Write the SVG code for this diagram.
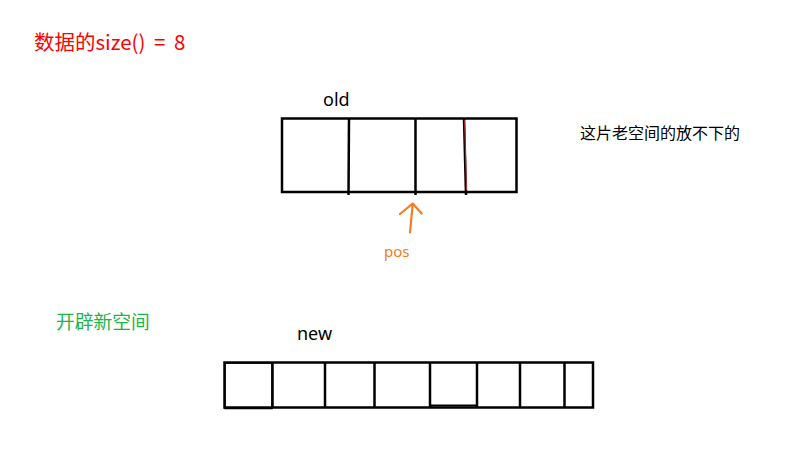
<svg xmlns="http://www.w3.org/2000/svg" width="792" height="449" viewBox="0 0 792 449">
<style>
.box{fill:none;stroke:#000;stroke-width:2.5}
.div{stroke:#000;stroke-width:2.5;fill:none}
.t{font-family:"Noto Sans CJK SC","Noto Sans",sans-serif}
.lat{font-family:"Noto Sans","Noto Sans CJK SC",sans-serif}
</style>
<rect width="792" height="449" fill="#fff"/>
<g id="title">
<text class="t" x="34" y="50" font-size="20.5" word-spacing="4" fill="#f00">数据的size() = 8</text>
</g>
<g id="old-label">
<text class="lat" x="323" y="106" font-size="18" fill="#000">old</text>
</g>
<g id="old-array">
<rect class="box" x="282" y="118.5" width="234.5" height="73.5"/>
<line class="div" x1="349" y1="118" x2="348.5" y2="195"/>
<line class="div" x1="415.5" y1="118" x2="415.5" y2="195"/>
<line class="div" x1="464" y1="118" x2="466" y2="195"/>
<line x1="464.6" y1="120" x2="466.6" y2="190" stroke="#e33" stroke-width="0.8"/>
</g>
<g id="note">
<text class="t" x="580" y="139" font-size="16" fill="#000">这片老空间的放不下的</text>
</g>
<g id="pos">
<text class="lat" x="384" y="257" font-size="15" fill="#f47b20">pos</text>
</g>
<g id="new-title">
<text class="t" x="56" y="329" font-size="18.8" fill="#1fb34b">开辟新空间</text>
</g>
<g id="new-label">
<text class="lat" x="297" y="340" font-size="18" fill="#000">new</text>
</g>
<g id="new-array">
<rect class="box" x="224.5" y="362.5" width="368.5" height="45"/>
<rect x="225" y="363" width="47" height="45.5" fill="none" stroke="#000" stroke-width="1.5"/>
<line class="div" x1="272.5" y1="362" x2="272.5" y2="408"/>
<line class="div" x1="325" y1="362" x2="325" y2="408"/>
<line class="div" x1="374.5" y1="362" x2="374.5" y2="408"/>
<line class="div" x1="430" y1="362" x2="430" y2="408"/>
<line class="div" x1="477" y1="362" x2="477" y2="408"/>
<line class="div" x1="520" y1="362" x2="520" y2="408"/>
<line class="div" x1="564.5" y1="362" x2="564.5" y2="408"/>
<line x1="430" y1="405.5" x2="477" y2="405.5" stroke="#000" stroke-width="2"/>
</g>
<g id="connectors">
<path d="M410 232.5 L412.7 204 M400 214 L412.7 203.5 L421.7 213.5" fill="none" stroke="#f47b20" stroke-width="2.2" stroke-linecap="round" stroke-linejoin="round"/>
</g>
</svg>
